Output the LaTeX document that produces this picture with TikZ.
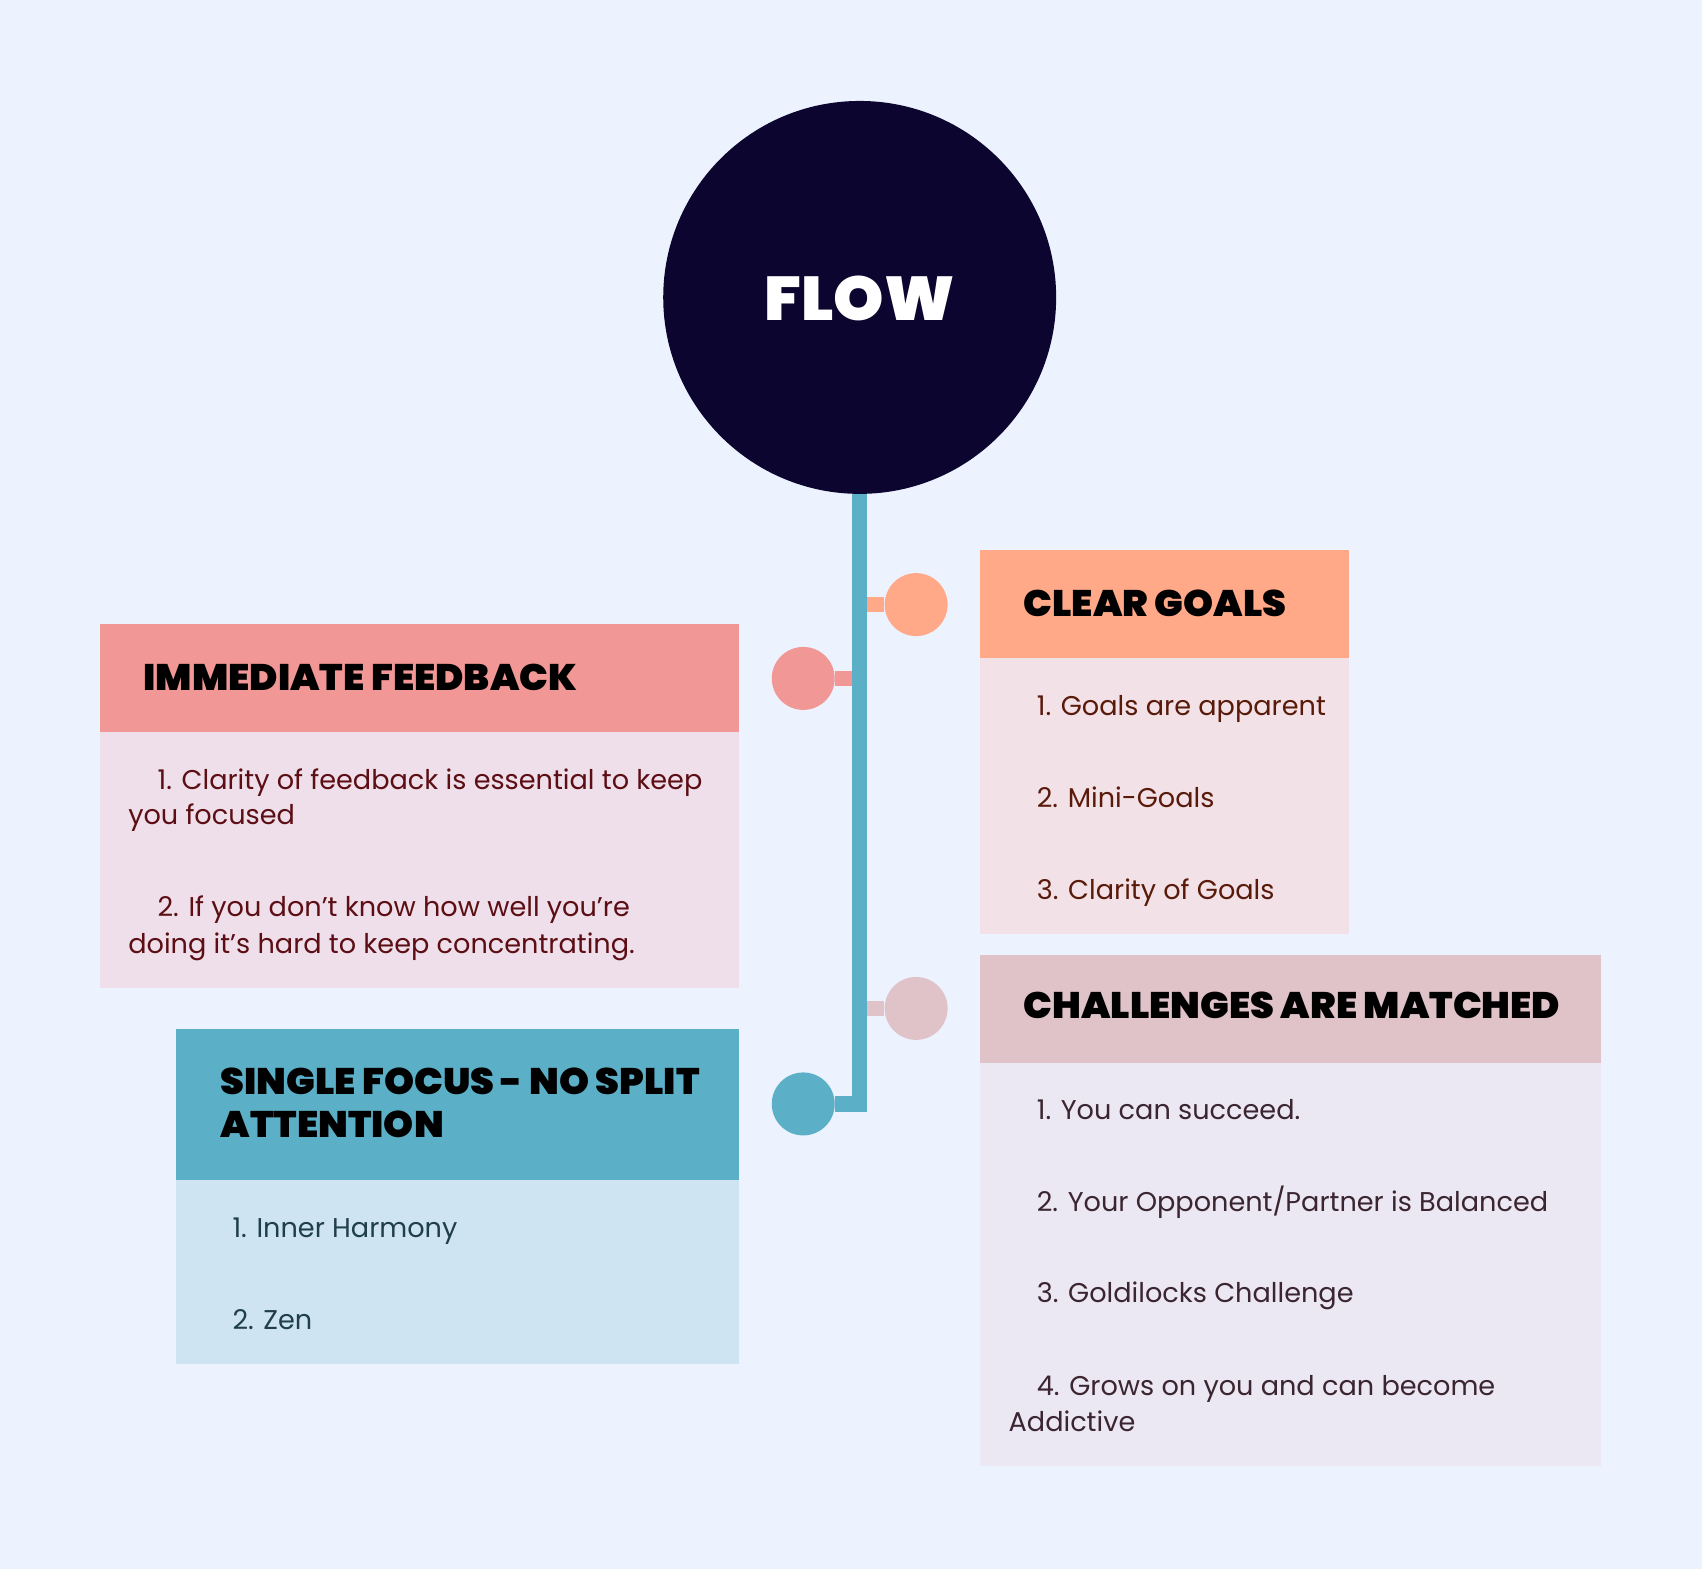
\documentclass[tikz,border=0pt]{standalone}
\usepackage{fontspec}
\setmainfont{Poppins}
\IfFontExistsTF{Poppins Black}
  {\newfontfamily\headfont{Poppins Black}[FakeStretch=1.035]}
  {\newfontfamily\headfont{Poppins}[FakeBold=1.5]}
\definecolor{bg}{HTML}{EDF3FE}
\definecolor{navy}{HTML}{0B0530}
\definecolor{spine}{HTML}{5BAFC6}
\definecolor{peach}{HTML}{FFA988}
\definecolor{peachbody}{HTML}{F2E2E8}
\definecolor{salmon}{HTML}{F19795}
\definecolor{salmonbody}{HTML}{EEDFEA}
\definecolor{mauve}{HTML}{E0C2C9}
\definecolor{mauvebody}{HTML}{EBE8F3}
\definecolor{bluebody}{HTML}{CFE4F2}
\definecolor{cgtext}{HTML}{5A1A0A}
\definecolor{iftext}{HTML}{5C0E14}
\definecolor{sftext}{HTML}{1F3F4A}
\definecolor{chtext}{HTML}{3A2530}
\begin{document}
\begin{tikzpicture}[x=1pt,y=-1pt,
  panel/.style={rectangle, inner sep=0, outer sep=0, anchor=north west, draw=none},
  dot/.style={circle, inner sep=0, minimum size=58, draw=none},
  stub/.style={line width=14},
  head/.style={anchor=base west, inner sep=0, font=\headfont\fontsize{34}{40}\selectfont, text=black},
  item/.style={anchor=base west, inner sep=0, font=\fontsize{25}{30}\selectfont}]
\fill[bg] (0,0) rectangle (1568,1445);
\useasboundingbox (0,0) rectangle (1568,1445);

% central circle
\node[circle, fill=navy, minimum size=362, inner sep=0] (flow) at (792,274) {};
\node[anchor=base, inner sep=0, text=white, font=\headfont\fontsize{57}{62}\selectfont] (flowtxt) at (792,295) {FLOW};

% panels
\node[panel, fill=peach, minimum width=340, minimum height=99] (cgh) at (903,507) {};
\node[panel, fill=peachbody, minimum width=340, minimum height=254] (cgb) at (903,606) {};
\node[panel, fill=salmon, minimum width=589, minimum height=99] (ifh) at (92,575) {};
\node[panel, fill=salmonbody, minimum width=589, minimum height=236] (ifb) at (92,674) {};
\node[panel, fill=spine, minimum width=519, minimum height=139] (sfh) at (162,948) {};
\node[panel, fill=bluebody, minimum width=519, minimum height=170] (sfb) at (162,1087) {};
\node[panel, fill=mauve, minimum width=572, minimum height=99] (chh) at (903,880) {};
\node[panel, fill=mauvebody, minimum width=572, minimum height=372] (chb) at (903,979) {};

% dots
\node[dot, fill=peach] (cgdot) at (844,557) {};
\node[dot, fill=salmon] (ifdot) at (740,625) {};
\node[dot, fill=mauve] (chdot) at (844,929) {};
\node[dot, fill=spine] (sfdot) at (740,1017) {};

\coordinate (cgj) at (792,557);
\coordinate (ifj) at (792,625);
\coordinate (chj) at (792,929);
\coordinate (corner) at (792,1017);

\draw[stub, peach] (cgj) -- (cgdot);
\draw[stub, salmon] (ifj) -- (ifdot);
\draw[stub, mauve] (chj) -- (chdot);
\draw[stub, spine, line join=miter] (flow.south) -- (corner) -- (sfdot);

% headings
\node[head] (cgt) at (943,568) {CLEAR GOALS};
\node[head] (ift) at (132,636) {IMMEDIATE FEEDBACK};
\node[head] (sft1) at (203,1008) {SINGLE FOCUS - NO SPLIT};
\node[head] (sft2) at (203,1048) {ATTENTION};
\node[head] (cht) at (943,938) {CHALLENGES ARE MATCHED};

% items
\node[item, text=cgtext] (cg1) at (955,659) {1. Goals are apparent};
\node[item, text=cgtext] (cg2) at (955,744) {2. Mini-Goals};
\node[item, text=cgtext] (cg3) at (955,829) {3. Clarity of Goals};

\node[item, text=iftext] (if1a) at (145,727) {1. Clarity of feedback is essential to keep};
\node[item, text=iftext] (if1b) at (118,760) {you focused};
\node[item, text=iftext] (if2a) at (145,844) {2. If you don’t know how well you’re};
\node[item, text=iftext] (if2b) at (118,878) {doing it’s hard to keep concentrating.};

\node[item, text=sftext] (sf1) at (214,1140) {1. Inner Harmony};
\node[item, text=sftext] (sf2) at (214,1225) {2. Zen};

\node[item, text=chtext] (ch1) at (955,1031) {1. You can succeed.};
\node[item, text=chtext] (ch2) at (955,1116) {2. Your Opponent/Partner is Balanced};
\node[item, text=chtext] (ch3) at (955,1200) {3. Goldilocks Challenge};
\node[item, text=chtext] (ch4a) at (955,1286) {4. Grows on you and can become};
\node[item, text=chtext] (ch4b) at (929,1319) {Addictive};
\end{tikzpicture}
\end{document}
